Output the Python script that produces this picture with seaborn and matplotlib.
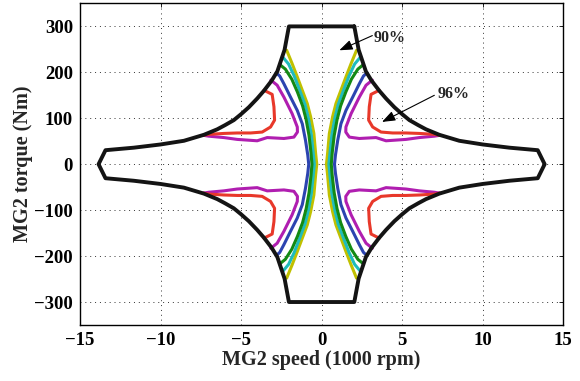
import numpy as np
import pandas as pd
import matplotlib
matplotlib.use("Agg")
import matplotlib.pyplot as plt
import seaborn as sns

# ---- data (upper-right quadrant, speed in 1000 rpm, torque in Nm); map is symmetric ----
env_x = [0.0, 2.03, 2.3, 2.75, 3.1, 3.58, 4.0, 4.52, 5.0, 5.45, 6.0, 6.48, 7.31, 8.55, 10.0, 11.66, 13.42, 13.85]
env_y = [300, 300, 249, 202, 182, 160, 143, 124, 109, 96, 85, 76, 64, 51, 43, 36, 30.5, 0]

yel_x = [0.30, 0.37, 0.48, 0.68, 0.89, 1.20, 1.51, 1.83, 2.17]
yel_y = [0, 23, 67, 103, 132, 161, 190, 219, 248]
cya_x = [0.45, 0.52, 0.64, 0.82, 1.03, 1.35, 1.70, 2.05, 2.43]
cya_y = [0, 25, 65, 100, 130, 160, 192, 218, 234]
grn_x = [0.60, 0.66, 0.78, 0.96, 1.18, 1.50, 1.85, 2.25, 2.60]
grn_y = [0, 25, 62, 97, 127, 157, 185, 207, 217]
blu_x = [0.80, 0.86, 1.00, 1.20, 1.51, 1.93, 2.34, 2.60, 2.82]
blu_y = [0, 20, 52, 88, 117, 146, 175, 192, 199]
mag_x = [3.15, 2.76, 2.34, 1.83, 1.51, 1.50, 1.72, 2.34, 3.38, 4.0, 5.24, 6.07, 7.0, 7.35]
mag_y = [183, 172, 146, 110, 81, 70, 59, 56, 58, 51, 54, 58, 61, 63]
red_x = [3.58, 3.07, 2.96, 2.92, 3.17, 3.69, 4.41, 5.24, 6.07, 7.0, 7.35]
red_y = [161, 152, 125, 96, 81, 70, 68, 68, 67, 65, 63]

x_ticks = [-15, -10, -5, 0, 5, 10, 15]
y_ticks = [-300, -200, -100, 0, 100, 200, 300]
labels_pct = ["90%", "96%"]

colors = {"yel": "#c0c000", "cya": "#1fbcbc", "grn": "#138a13",
          "blu": "#2c44b0", "mag": "#b01eb0", "red": "#e8382a", "env": "#141414"}

sns.set_style("white")
plt.rcParams['font.family'] = ['Liberation Serif', 'DejaVu Serif']
plt.rcParams['font.weight'] = 'bold'
plt.rcParams['axes.labelweight'] = 'bold'

fig = plt.figure(figsize=(5.8, 3.81), dpi=100)
ax = fig.add_axes([0.138, 0.147, 0.833, 0.844])


def draw(x, y, color, lw):
    sns.lineplot(x=np.asarray(x), y=np.asarray(y), sort=False, estimator=None,
                 color=color, lw=lw, ax=ax, solid_capstyle='round', solid_joinstyle='round')


# envelope: closed outline
ex = np.asarray(env_x); ey = np.asarray(env_y, float)
right = np.concatenate([ex[1:], ex[::-1][1:-1]])
righty = np.concatenate([ey[1:], -ey[::-1][1:-1]])
outline_x = np.concatenate([right, -right[::-1], right[:1]])
outline_y = np.concatenate([righty, righty[::-1], righty[:1]])

# contours crossing zero torque
for key, (cx, cy) in {"yel": (yel_x, yel_y), "cya": (cya_x, cya_y),
                      "grn": (grn_x, grn_y), "blu": (blu_x, blu_y)}.items():
    cx = np.asarray(cx); cy = np.asarray(cy, float)
    px = np.concatenate([cx[::-1], cx[1:]])
    py = np.concatenate([cy[::-1], -cy[1:]])
    for s in (1, -1):
        draw(s * px, py, colors[key], 2.2)

# closed-region contours
for key, (cx, cy) in {"mag": (mag_x, mag_y), "red": (red_x, red_y)}.items():
    for sx in (1, -1):
        for sy in (1, -1):
            draw(sx * np.asarray(cx), sy * np.asarray(cy, float), colors[key], 2.2)

draw(outline_x, outline_y, colors["env"], 2.8)

ax.set_xlim(-15, 15)
ax.set_ylim(-350, 350)
ax.set_xticks(x_ticks)
ax.set_yticks(y_ticks)
ax.set_xticklabels([str(t).replace('-', '\u2212') for t in x_ticks])
ax.set_yticklabels([str(t).replace('-', '\u2212') for t in y_ticks])
ax.grid(True, linestyle=(0, (1, 4)), color='#333333', linewidth=0.7)
ax.tick_params(direction='in', length=3, width=0.6, top=True, right=True,
               labelsize=13.5, pad=5, colors='black')
for lab in ax.get_xticklabels() + ax.get_yticklabels():
    lab.set_fontweight('bold')
for sp in ax.spines.values():
    sp.set_color('black'); sp.set_linewidth(1.0)

ax.set_xlabel("MG2 speed (1000 rpm)", fontsize=14.5, fontweight='bold', labelpad=1)
ax.set_ylabel("MG2 torque (Nm)", fontsize=14.5, fontweight='bold', labelpad=1)

arrow = dict(arrowstyle='-|>,head_length=0.8,head_width=0.3', color='black', lw=0.8,
             shrinkA=0, shrinkB=0)
ax.annotate('', xy=(1.1, 248), xytext=(3.15, 280), arrowprops=arrow)
ax.text(3.2, 274, labels_pct[0], ha='left', va='center', fontsize=11.5, fontweight='bold')
ax.annotate('', xy=(3.75, 92), xytext=(7.0, 150), arrowprops=arrow)
ax.text(7.2, 153, labels_pct[1], ha='left', va='center', fontsize=11.5, fontweight='bold')

fig.savefig("out.png", dpi=100)
